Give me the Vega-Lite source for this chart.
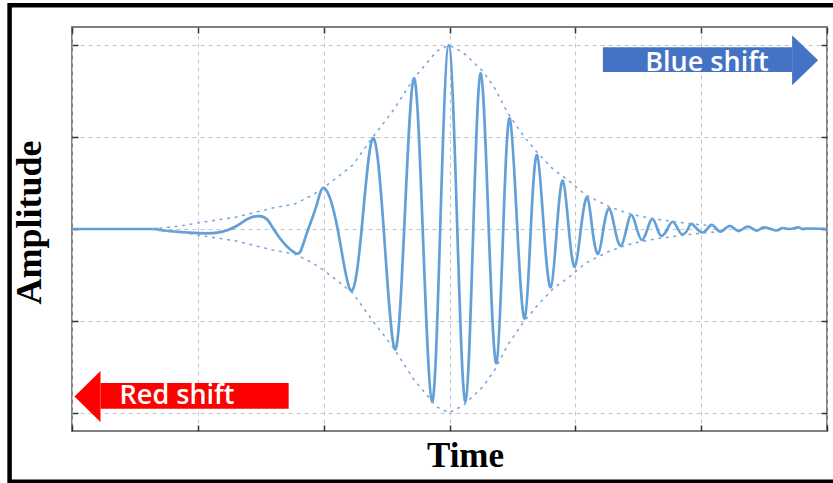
{
  "$schema": "https://vega.github.io/schema/vega-lite/v6.json",
  "width": 755,
  "height": 404,
  "autosize": {"type": "none"},
  "padding": {"left": 72, "top": 27, "right": 6, "bottom": 52},
  "background": "white",
  "config": {
    "view": {"stroke": "#808080", "strokeWidth": 2},
    "axis": {"labels": false, "domain": false, "tickColor": "#333333", "tickWidth": 1.5, "tickSize": -6}
  },
  "resolve": {"axis": {"x": "independent", "y": "independent"}},
  "datasets": {
    "wave": [
      {"t": 0, "amp": 0}, {"t": 0.616, "amp": 0}, {"t": 0.696, "amp": -0.011}, {"t": 0.934, "amp": -0.04},
      {"t": 1.157, "amp": -0.04}, {"t": 1.308, "amp": 0.033}, {"t": 1.396, "amp": 0.109}, {"t": 1.491, "amp": 0.141},
      {"t": 1.555, "amp": 0.098}, {"t": 1.602, "amp": 0}, {"t": 1.682, "amp": -0.152}, {"t": 1.769, "amp": -0.258},
      {"t": 1.817, "amp": -0.24}, {"t": 1.865, "amp": -0.05}, {"t": 1.944, "amp": 0.261}, {"t": 2.008, "amp": 0.443},
      {"t": 2.111, "amp": 0}, {"t": 2.215, "amp": -0.671}, {"t": 2.302, "amp": 0}, {"t": 2.39, "amp": 0.987},
      {"t": 2.477, "amp": 0}, {"t": 2.565, "amp": -1.309}, {"t": 2.64, "amp": 0}, {"t": 2.716, "amp": 1.64},
      {"t": 2.787, "amp": 0}, {"t": 2.861, "amp": -1.88}, {"t": 2.926, "amp": 0}, {"t": 2.994, "amp": 2.002},
      {"t": 3.062, "amp": 0}, {"t": 3.127, "amp": -1.88}, {"t": 3.189, "amp": 0}, {"t": 3.249, "amp": 1.694},
      {"t": 3.312, "amp": 0}, {"t": 3.373, "amp": -1.461}, {"t": 3.427, "amp": 0}, {"t": 3.479, "amp": 1.205},
      {"t": 3.539, "amp": 0}, {"t": 3.598, "amp": -0.972}, {"t": 3.646, "amp": 0}, {"t": 3.696, "amp": 0.805},
      {"t": 3.75, "amp": 0}, {"t": 3.805, "amp": -0.634}, {"t": 3.853, "amp": 0}, {"t": 3.901, "amp": 0.526},
      {"t": 3.948, "amp": 0}, {"t": 3.996, "amp": -0.41}, {"t": 4.044, "amp": 0}, {"t": 4.094, "amp": 0.345},
      {"t": 4.135, "amp": 0}, {"t": 4.181, "amp": -0.272}, {"t": 4.223, "amp": 0}, {"t": 4.269, "amp": 0.225},
      {"t": 4.314, "amp": 0}, {"t": 4.362, "amp": -0.185}, {"t": 4.406, "amp": 0}, {"t": 4.447, "amp": 0.152},
      {"t": 4.489, "amp": 0}, {"t": 4.531, "amp": -0.12}, {"t": 4.573, "amp": 0}, {"t": 4.614, "amp": 0.109},
      {"t": 4.652, "amp": 0}, {"t": 4.686, "amp": -0.076}, {"t": 4.732, "amp": 0}, {"t": 4.773, "amp": 0.079},
      {"t": 4.815, "amp": 0}, {"t": 4.852, "amp": -0.058}, {"t": 4.895, "amp": 0}, {"t": 4.932, "amp": 0.051},
      {"t": 5.011, "amp": -0.038}, {"t": 5.083, "amp": 0.045}, {"t": 5.149, "amp": -0.029}, {"t": 5.223, "amp": 0.033},
      {"t": 5.295, "amp": -0.022}, {"t": 5.366, "amp": 0.025}, {"t": 5.441, "amp": -0.018}, {"t": 5.499, "amp": 0.018},
      {"t": 5.594, "amp": -0.016}, {"t": 5.642, "amp": 0.01}, {"t": 5.706, "amp": 0}, {"t": 5.769, "amp": 0.018},
      {"t": 5.8, "amp": 0}, {"t": 5.833, "amp": 0.005}, {"t": 6, "amp": 0}
    ],
    "envelope": [
      {"t": 0.64, "upper": 0, "lower": 0}, {"t": 0.855, "upper": 0.033, "lower": -0.033},
      {"t": 1.014, "upper": 0.069, "lower": -0.069}, {"t": 1.308, "upper": 0.131, "lower": -0.131},
      {"t": 1.594, "upper": 0.229, "lower": -0.229}, {"t": 1.769, "upper": 0.272, "lower": -0.272},
      {"t": 1.912, "upper": 0.37, "lower": -0.37}, {"t": 2.008, "upper": 0.457, "lower": -0.457},
      {"t": 2.231, "upper": 0.696, "lower": -0.696}, {"t": 2.39, "upper": 1.001, "lower": -1.001},
      {"t": 2.549, "upper": 1.284, "lower": -1.284}, {"t": 2.724, "upper": 1.654, "lower": -1.654},
      {"t": 2.899, "upper": 1.937, "lower": -1.937}, {"t": 2.994, "upper": 2.002, "lower": -2.002},
      {"t": 3.105, "upper": 1.926, "lower": -1.926}, {"t": 3.264, "upper": 1.719, "lower": -1.719},
      {"t": 3.36, "upper": 1.534, "lower": -1.534}, {"t": 3.463, "upper": 1.262, "lower": -1.262},
      {"t": 3.583, "upper": 1.023, "lower": -1.023}, {"t": 3.702, "upper": 0.827, "lower": -0.827},
      {"t": 3.829, "upper": 0.642, "lower": -0.642}, {"t": 3.932, "upper": 0.544, "lower": -0.544},
      {"t": 4.083, "upper": 0.37, "lower": -0.37}, {"t": 4.274, "upper": 0.239, "lower": -0.239},
      {"t": 4.449, "upper": 0.158, "lower": -0.158}, {"t": 4.632, "upper": 0.109, "lower": -0.109},
      {"t": 4.775, "upper": 0.082, "lower": -0.082}, {"t": 4.934, "upper": 0.054, "lower": -0.054},
      {"t": 5.109, "upper": 0.033, "lower": -0.033}
    ]
  },
  "layer": [
    {
      "data": {"values": [{}]},
      "mark": {"type": "rect", "filled": false, "stroke": "black", "strokeWidth": 4.5},
      "encoding": {
        "x": {"datum": -0.496, "type": "quantitative", "scale": {"domain": [0, 6], "nice": false}, "axis": null},
        "x2": {"datum": 6.07},
        "y": {"datum": 2.437, "type": "quantitative", "scale": {"domain": [-2.2, 2.2], "nice": false}, "axis": null},
        "y2": {"datum": -2.753}
      }
    },
    {
      "data": {"name": "wave"},
      "mark": {"type": "line", "interpolate": "natural", "color": "#5b9bd5", "strokeWidth": 2.7, "opacity": 0.95},
      "encoding": {
        "x": {"field": "t", "type": "quantitative", "scale": {"domain": [0, 6], "nice": false},
          "axis": {"orient": "bottom", "values": [0, 1, 2, 3, 4, 5, 6], "grid": true, "gridDash": [4, 4], "gridColor": "#c4c4c4", "gridWidth": 1,
            "title": "Time", "titleFont": "Liberation Serif", "titleFontSize": 35, "titleFontWeight": "bold", "titleColor": "black",
            "titleX": 393, "titleY": 35, "titleBaseline": "alphabetic", "titleAlign": "center"}},
        "y": {"field": "amp", "type": "quantitative", "scale": {"domain": [-2.2, 2.2], "nice": false},
          "axis": {"orient": "left", "values": [-2, -1, 0, 1, 2], "grid": true, "gridDash": [4, 4], "gridColor": "#c4c4c4", "gridWidth": 1,
            "title": "Amplitude", "titleFont": "Liberation Serif", "titleFontSize": 36, "titleFontWeight": "bold", "titleColor": "black",
            "titleAngle": 270, "titleX": -32, "titleY": 195, "titleBaseline": "alphabetic", "titleAlign": "center"}}
      }
    },
    {
      "data": {"name": "envelope"},
      "transform": [{"fold": ["upper", "lower"], "as": ["side", "env"]}],
      "mark": {"type": "line", "color": "#7ea6d8", "strokeWidth": 1.6, "strokeDash": [1.6, 6], "strokeCap": "round"},
      "encoding": {
        "x": {"field": "t", "type": "quantitative", "scale": {"domain": [0, 6], "nice": false},
          "axis": {"orient": "top", "values": [0, 1, 2, 3, 4, 5, 6], "grid": false, "title": null}},
        "y": {"field": "env", "type": "quantitative", "scale": {"domain": [-2.2, 2.2], "nice": false},
          "axis": {"orient": "right", "values": [-2, -1, 0, 1, 2], "grid": false, "title": null}},
        "detail": {"field": "side"}
      }
    },
    {
      "data": {"values": [{}]},
      "mark": {"type": "rect", "color": "#4472c4"},
      "encoding": {
        "x": {"datum": 4.219, "type": "quantitative", "scale": {"domain": [0, 6], "nice": false}, "axis": null},
        "x2": {"datum": 5.722},
        "y": {"datum": 1.98, "type": "quantitative", "scale": {"domain": [-2.2, 2.2], "nice": false}, "axis": null},
        "y2": {"datum": 1.709}
      }
    },
    {
      "data": {"values": [{}]},
      "mark": {"type": "point", "shape": "M-0.52,-1 L0.52,0 L-0.52,1 Z", "filled": true, "color": "#4472c4", "opacity": 1, "size": 2500},
      "encoding": {
        "x": {"datum": 5.826, "type": "quantitative", "scale": {"domain": [0, 6], "nice": false}, "axis": null},
        "y": {"datum": 1.839, "type": "quantitative", "scale": {"domain": [-2.2, 2.2], "nice": false}, "axis": null}
      }
    },
    {
      "data": {"values": [{}]},
      "mark": {"type": "text", "text": "Blue shift", "font": "Open Sans", "fontSize": 27, "fontWeight": 600, "color": "white", "align": "center", "baseline": "alphabetic"},
      "encoding": {
        "x": {"datum": 5.046, "type": "quantitative", "scale": {"domain": [0, 6], "nice": false}, "axis": null},
        "y": {"datum": 1.722, "type": "quantitative", "scale": {"domain": [-2.2, 2.2], "nice": false}, "axis": null}
      }
    },
    {
      "data": {"values": [{}]},
      "mark": {"type": "rect", "color": "#ff0000"},
      "encoding": {
        "x": {"datum": 0.227, "type": "quantitative", "scale": {"domain": [0, 6], "nice": false}, "axis": null},
        "x2": {"datum": 1.722},
        "y": {"datum": -1.676, "type": "quantitative", "scale": {"domain": [-2.2, 2.2], "nice": false}, "axis": null},
        "y2": {"datum": -1.959}
      }
    },
    {
      "data": {"values": [{}]},
      "mark": {"type": "point", "shape": "M0.51,-1 L-0.51,0 L0.51,1 Z", "filled": true, "color": "#ff0000", "opacity": 1, "size": 2601},
      "encoding": {
        "x": {"datum": 0.123, "type": "quantitative", "scale": {"domain": [0, 6], "nice": false}, "axis": null},
        "y": {"datum": -1.823, "type": "quantitative", "scale": {"domain": [-2.2, 2.2], "nice": false}, "axis": null}
      }
    },
    {
      "data": {"values": [{}]},
      "mark": {"type": "text", "text": "Red shift", "font": "Open Sans", "fontSize": 27, "fontWeight": 600, "color": "white", "align": "center", "baseline": "alphabetic"},
      "encoding": {
        "x": {"datum": 0.835, "type": "quantitative", "scale": {"domain": [0, 6], "nice": false}, "axis": null},
        "y": {"datum": -1.904, "type": "quantitative", "scale": {"domain": [-2.2, 2.2], "nice": false}, "axis": null}
      }
    }
  ]
}
